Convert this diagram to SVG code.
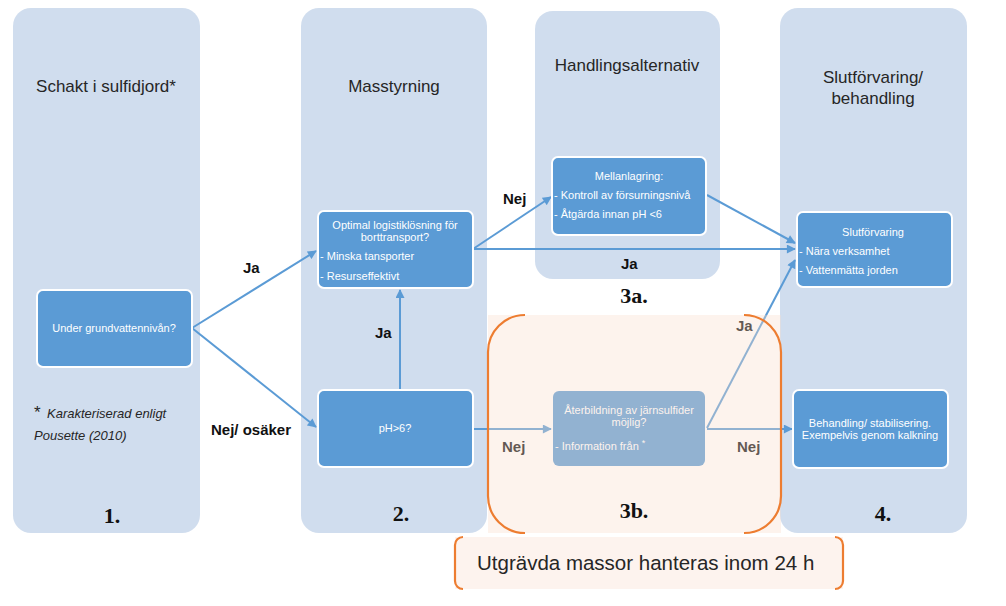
<svg xmlns="http://www.w3.org/2000/svg" width="1006" height="606" viewBox="0 0 1006 606">
<defs>
<style>
.panel{fill:#D0DDEE;}
.node rect{fill:#5B9BD5;stroke:#FFFFFF;stroke-width:2;}
.nt{font-family:"Liberation Sans",Arial,sans-serif;font-size:11px;fill:#FFFFFF;}
.hd{font-family:"Liberation Sans",Arial,sans-serif;font-size:17px;fill:#262626;text-anchor:middle;}
.num{font-family:"Liberation Serif","Times New Roman",serif;font-size:22px;font-weight:bold;fill:#111111;text-anchor:middle;}
.lbl{font-family:"Liberation Sans",Arial,sans-serif;font-size:15px;font-weight:bold;fill:#111111;}
.conn line{stroke:#5B9BD5;stroke-width:2;fill:none;marker-end:url(#ah);}
.br{fill:none;stroke:#ED7D31;stroke-width:2.2;}
.mid{text-anchor:middle;}
</style>
<marker id="ah" viewBox="0 0 10 10" refX="9" refY="5" markerWidth="10" markerHeight="9" markerUnits="userSpaceOnUse" orient="auto">
<path d="M0,0 L10,5 L0,10 z" fill="#5B9BD5"/>
</marker>
</defs>
<rect width="1006" height="606" fill="#FFFFFF"/>

<g id="panels">
<rect id="col1" class="panel" x="13" y="8" width="187" height="525" rx="18"/>
<rect id="col2" class="panel" x="301" y="8" width="186" height="525" rx="18"/>
<rect id="col3a" class="panel" x="535" y="11" width="185" height="268" rx="18"/>
<rect id="col4" class="panel" x="780" y="8" width="187" height="525" rx="18"/>
<text class="hd" x="106" y="92">Schakt i sulfidjord*</text>
<text class="hd" x="394" y="92">Masstyrning</text>
<text class="hd" x="627" y="71">Handlingsalternativ</text>
<text class="hd" x="873" y="83">Slutförvaring/</text>
<text class="hd" x="873" y="104">behandling</text>
<text font-family="'Liberation Sans',Arial,sans-serif" font-style="italic" font-size="13" fill="#262626"><tspan x="34" y="418" font-size="17" font-style="normal">*</tspan><tspan x="47" y="418">Karakteriserad enligt</tspan><tspan x="34" y="440">Pousette (2010)</tspan></text>
</g>

<g id="connectors">
<g class="conn">
<line x1="192" y1="328" x2="316" y2="251"/>
<line x1="192" y1="328" x2="316" y2="427"/>
<line x1="400" y1="390" x2="400" y2="290"/>
<line x1="473" y1="249" x2="551" y2="197"/>
<line x1="473" y1="249" x2="795" y2="249"/>
<line x1="707" y1="195" x2="795" y2="243"/>
<line x1="707" y1="428" x2="795" y2="260"/>
<line x1="473" y1="429" x2="551" y2="429"/>
<line x1="707" y1="429" x2="792" y2="429"/>
</g>
<text class="lbl" x="243" y="273">Ja</text>
<text class="lbl" x="211" y="435" font-size="16">Nej/ osäker</text>
<text class="lbl" x="375" y="338">Ja</text>
<text class="lbl" x="503" y="204">Nej</text>
<text class="lbl" x="621" y="269">Ja</text>
<text class="lbl" x="502" y="452">Nej</text>
<text class="lbl" x="737" y="452">Nej</text>
<text class="lbl" x="736" y="331">Ja</text>
</g>

<g id="node-grundvatten" class="node">
<rect x="37" y="290" width="155" height="77" rx="6"/>
<text class="nt mid" x="114" y="332">Under grundvattennivån?</text>
</g>
<g id="node-logistik" class="node">
<rect x="318" y="211" width="155" height="77" rx="6"/>
<text class="nt mid" x="395" y="229">Optimal logistiklösning för</text>
<text class="nt mid" x="395" y="241">borttransport?</text>
<text class="nt" x="320" y="260">- Minska tansporter</text>
<text class="nt" x="320" y="280">- Resurseffektivt</text>
</g>
<g id="node-ph" class="node">
<rect x="318" y="390" width="155" height="77" rx="6"/>
<text class="nt mid" x="395" y="432">pH&gt;6?</text>
</g>
<g id="node-mellanlagring" class="node">
<rect x="552" y="157" width="154" height="78" rx="6"/>
<text class="nt mid" x="629" y="180">Mellanlagring:</text>
<text class="nt" x="554" y="199">- Kontroll av försurningsnivå</text>
<text class="nt" x="554" y="218">- Åtgärda innan pH &lt;6</text>
</g>
<g id="node-slutforvaring" class="node">
<rect x="797" y="212" width="155" height="75" rx="6"/>
<text class="nt mid" x="873" y="236">Slutförvaring</text>
<text class="nt" x="799" y="255">- Nära verksamhet</text>
<text class="nt" x="799" y="274">- Vattenmätta jorden</text>
</g>
<g id="node-aterbildning" class="node">
<rect x="553" y="391" width="152" height="75" rx="6" style="stroke:none"/>
<text class="nt mid" x="629" y="414">Återbildning av järnsulfider</text>
<text class="nt mid" x="629" y="426">möjlig?</text>
<text class="nt" x="555" y="450">- Information från <tspan dy="-4" font-size="9">*</tspan></text>
</g>
<g id="node-behandling" class="node">
<rect x="793" y="390" width="155" height="78" rx="6"/>
<text class="nt mid" x="870" y="427">Behandling/ stabilisering.</text>
<text class="nt mid" x="870" y="439">Exempelvis  genom kalkning</text>
</g>

<g id="group-3b">
<rect x="488" y="315" width="293" height="218" fill="#F9DCCB" fill-opacity="0.35"/>
<path class="br" d="M525,315 A37,37 0 0 0 488,352 L488,496 A37,37 0 0 0 525,533"/>
<path class="br" d="M744,315 A37,37 0 0 1 781,352 L781,496 A37,37 0 0 1 744,533"/>
</g>

<g id="numbers">
<text class="num" x="112" y="523">1.</text>
<text class="num" x="401" y="521">2.</text>
<text class="num" x="634" y="303">3a.</text>
<text class="num" x="634" y="518">3b.</text>
<text class="num" x="883" y="521">4.</text>
</g>

<g id="note-24h">
<rect x="455" y="537" width="388" height="52" fill="#FDF3EE"/>
<path class="br" d="M463,537 A8,8 0 0 0 455,545 L455,581 A8,8 0 0 0 463,589"/>
<path class="br" d="M835,537 A8,8 0 0 1 843,545 L843,581 A8,8 0 0 1 835,589"/>
<text x="477" y="570" font-family="'Liberation Sans',Arial,sans-serif" font-size="20.5" fill="#262626">Utgrävda massor hanteras inom 24 h</text>
</g>
</svg>
